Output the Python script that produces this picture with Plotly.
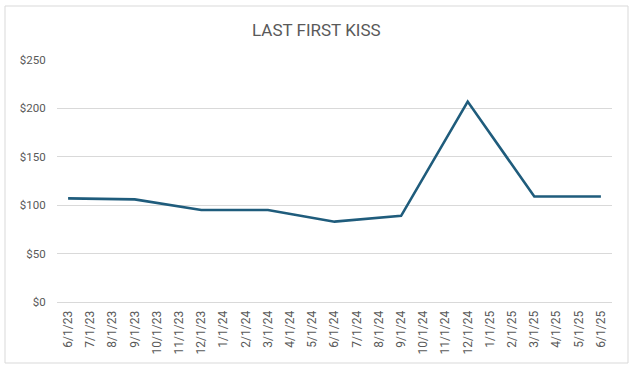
import plotly.graph_objects as go

dates = ["6/1/23", "7/1/23", "8/1/23", "9/1/23", "10/1/23", "11/1/23", "12/1/23",
         "1/1/24", "2/1/24", "3/1/24", "4/1/24", "5/1/24", "6/1/24", "7/1/24",
         "8/1/24", "9/1/24", "10/1/24", "11/1/24", "12/1/24", "1/1/25", "2/1/25",
         "3/1/25", "4/1/25", "5/1/25", "6/1/25"]
prices = [107, None, None, 106, None, None, 95,
          None, None, 95, None, None, 83, None,
          None, 89, None, None, 207, None, None,
          109, None, None, 109]
y_ticks = [0, 50, 100, 150, 200, 250]
y_labels = ["$0", "$50", "$100", "$150", "$200", "$250"]

W, H = 639, 375
L, R, T, B = 57, 27, 60, 73
pw, ph = W - L - R, H - T - B

def px_x(p):
    return (p - L) / pw

def px_y(p):
    return (H - B - p) / ph

fig = go.Figure()
fig.add_trace(go.Scatter(x=dates, y=prices, mode="lines", connectgaps=True,
                         line=dict(color="#1F5C7C", width=2.6), showlegend=False))

fig.update_layout(
    width=W, height=H,
    margin=dict(l=L, r=R, t=T, b=B),
    paper_bgcolor="white", plot_bgcolor="white",
    title=dict(text="LAST FIRST KISS", x=0.495, xanchor="center", y=1 - 30 / H, yanchor="middle",
               font=dict(family="Liberation Sans Narrow, Roboto, Arial", size=17, color="#595959")),
    xaxis=dict(type="category", categoryorder="array", categoryarray=dates,
               tickangle=-90, tickfont=dict(family="Liberation Sans Narrow, Roboto, Arial", size=12, color="#595959"),
               showgrid=False, showline=True, linecolor="#d9d9d9", linewidth=1, ticks="outside", ticklen=3,
               tickcolor="white",
               range=[-0.5, len(dates) - 0.5], fixedrange=True),
    yaxis=dict(range=[0, 250], tickvals=y_ticks, ticktext=y_labels,
               tickfont=dict(family="Liberation Sans Narrow, Roboto, Arial", size=11.5, color="#595959"),
               showgrid=True, gridcolor="#d9d9d9", gridwidth=1, zeroline=False, showline=False,
               ticks="outside", ticklen=8, tickcolor="white", fixedrange=True),
    shapes=[dict(type="rect", xref="paper", yref="paper",
                 x0=px_x(5), x1=px_x(628), y0=px_y(363), y1=px_y(6),
                 line=dict(color="#d9d9d9", width=1), fillcolor="rgba(0,0,0,0)", layer="below")],
)

fig.write_html("out.html")
